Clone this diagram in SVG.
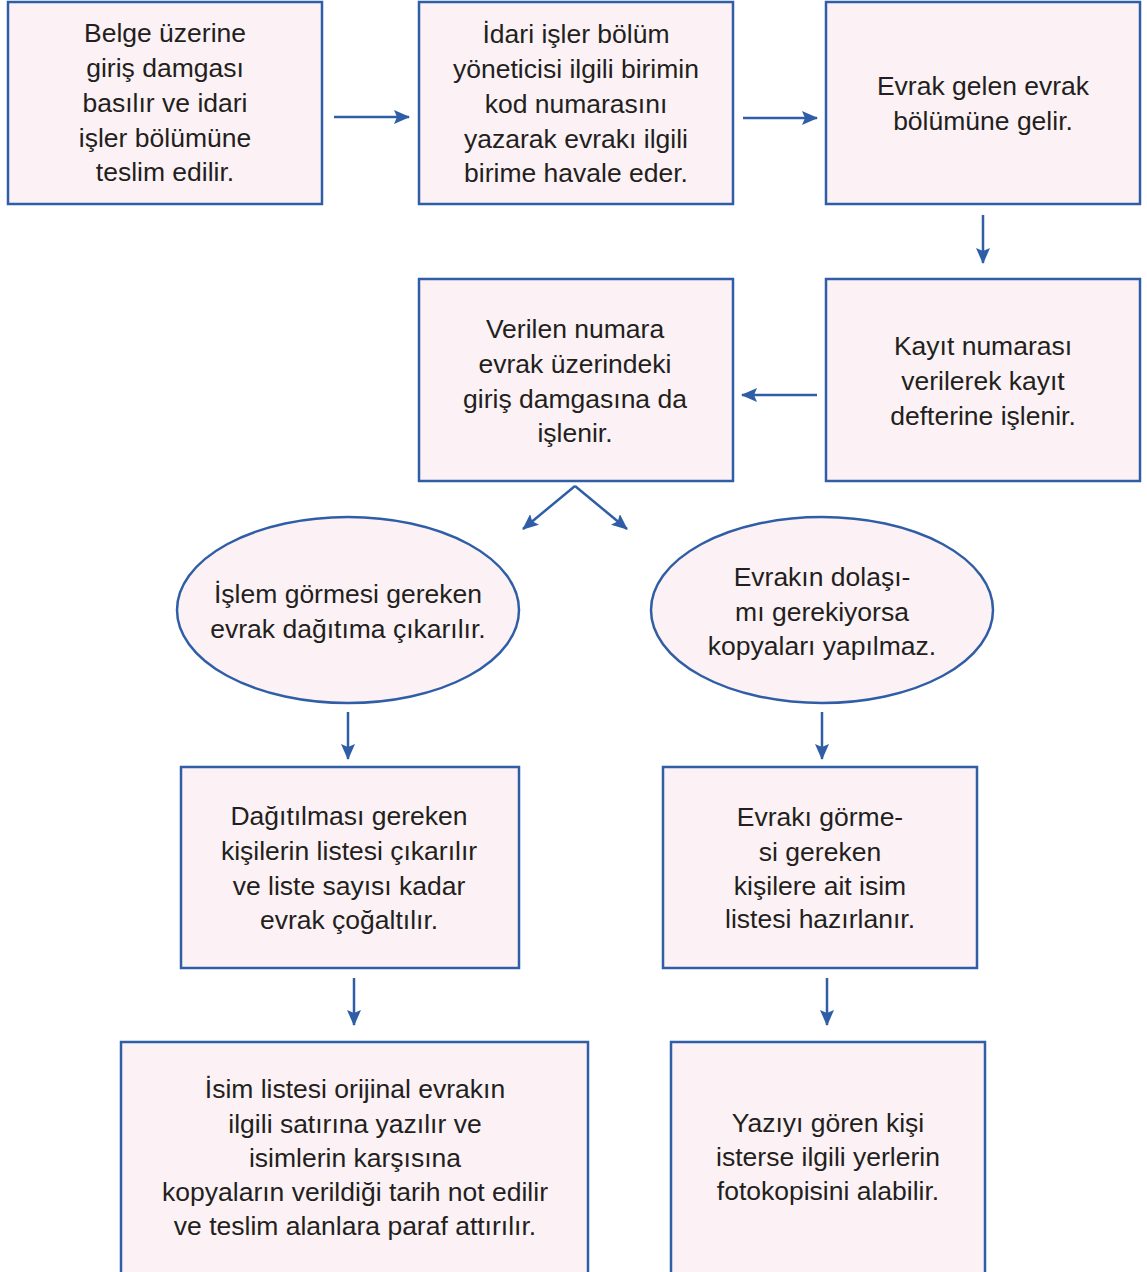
<svg xmlns="http://www.w3.org/2000/svg" width="1147" height="1272" viewBox="0 0 1147 1272">
<style>
.n{fill:#fcf2f5;stroke:#2f5ea6;stroke-width:2.5}
.t{font-family:"Liberation Sans",Arial,sans-serif;font-size:26.5px;fill:#231f20;text-anchor:middle}
.c{stroke:#2f5ea6;stroke-width:2.5;fill:none;marker-end:url(#ah)}
</style>
<defs>
<marker id="ah" viewBox="0 0 16 14" refX="15" refY="7" markerWidth="16" markerHeight="14" markerUnits="userSpaceOnUse" orient="auto">
<path d="M0,0 L16,7 L0,14 L3,7 z" fill="#2f5ea6"/>
</marker>
</defs>
<rect width="1147" height="1272" fill="#fff"/>
<g id="n1"><rect class="n" x="8" y="2" width="314" height="202"/>
<text class="t" x="165"><tspan x="165" y="42">Belge üzerine</tspan><tspan x="165" y="77">giriş damgası</tspan><tspan x="165" y="112">basılır ve idari</tspan><tspan x="165" y="147">işler bölümüne</tspan><tspan x="165" y="181">teslim edilir.</tspan></text></g>
<g id="n2"><rect class="n" x="419" y="2" width="314" height="202"/>
<text class="t"><tspan x="576" y="43">İdari işler bölüm</tspan><tspan x="576" y="78">yöneticisi ilgili birimin</tspan><tspan x="576" y="113">kod numarasını</tspan><tspan x="576" y="148">yazarak evrakı ilgili</tspan><tspan x="576" y="182">birime havale eder.</tspan></text></g>
<g id="n3"><rect class="n" x="826" y="2" width="314" height="202"/>
<text class="t"><tspan x="983" y="95">Evrak gelen evrak</tspan><tspan x="983" y="130">bölümüne gelir.</tspan></text></g>
<g id="n4"><rect class="n" x="826" y="279" width="314" height="202"/>
<text class="t"><tspan x="983" y="355">Kayıt numarası</tspan><tspan x="983" y="390">verilerek kayıt</tspan><tspan x="983" y="425">defterine işlenir.</tspan></text></g>
<g id="n5"><rect class="n" x="419" y="279" width="314" height="202"/>
<text class="t"><tspan x="575" y="338">Verilen numara</tspan><tspan x="575" y="373">evrak üzerindeki</tspan><tspan x="575" y="408">giriş damgasına da</tspan><tspan x="575" y="442">işlenir.</tspan></text></g>
<g id="n6"><ellipse class="n" cx="348" cy="610" rx="171" ry="93"/>
<text class="t"><tspan x="348" y="603">İşlem görmesi gereken</tspan><tspan x="348" y="638">evrak dağıtıma çıkarılır.</tspan></text></g>
<g id="n7"><ellipse class="n" cx="822" cy="610" rx="171" ry="93"/>
<text class="t"><tspan x="822" y="586">Evrakın dolaşı-</tspan><tspan x="822" y="621">mı gerekiyorsa</tspan><tspan x="822" y="655">kopyaları yapılmaz.</tspan></text></g>
<g id="n8"><rect class="n" x="181" y="767" width="338" height="201"/>
<text class="t"><tspan x="349" y="825">Dağıtılması gereken</tspan><tspan x="349" y="860">kişilerin listesi çıkarılır</tspan><tspan x="349" y="895">ve liste sayısı kadar</tspan><tspan x="349" y="929">evrak çoğaltılır.</tspan></text></g>
<g id="n9"><rect class="n" x="663" y="767" width="314" height="201"/>
<text class="t"><tspan x="820" y="826">Evrakı görme-</tspan><tspan x="820" y="861">si gereken</tspan><tspan x="820" y="895">kişilere ait isim</tspan><tspan x="820" y="928">listesi hazırlanır.</tspan></text></g>
<g id="n10"><rect class="n" x="121" y="1042" width="467" height="240"/>
<text class="t"><tspan x="355" y="1098">İsim listesi orijinal evrakın</tspan><tspan x="355" y="1133">ilgili satırına yazılır ve</tspan><tspan x="355" y="1167">isimlerin karşısına</tspan><tspan x="355" y="1201">kopyaların verildiği tarih not edilir</tspan><tspan x="355" y="1235">ve teslim alanlara paraf attırılır.</tspan></text></g>
<g id="n11"><rect class="n" x="671" y="1042" width="314" height="240"/>
<text class="t"><tspan x="828" y="1132">Yazıyı gören kişi</tspan><tspan x="828" y="1166">isterse ilgili yerlerin</tspan><tspan x="828" y="1200">fotokopisini alabilir.</tspan></text></g>
<g id="connectors">
<line class="c" x1="334" y1="117" x2="409" y2="117"/>
<line class="c" x1="743" y1="118" x2="817" y2="118"/>
<line class="c" x1="983" y1="215" x2="983" y2="263"/>
<line class="c" x1="817" y1="395" x2="742" y2="395"/>
<line class="c" x1="575" y1="486" x2="523" y2="529"/>
<line class="c" x1="575" y1="486" x2="627" y2="529"/>
<line class="c" x1="348" y1="712" x2="348" y2="759"/>
<line class="c" x1="822" y1="712" x2="822" y2="759"/>
<line class="c" x1="354" y1="978" x2="354" y2="1025"/>
<line class="c" x1="827" y1="978" x2="827" y2="1025"/>
</g>
</svg>
